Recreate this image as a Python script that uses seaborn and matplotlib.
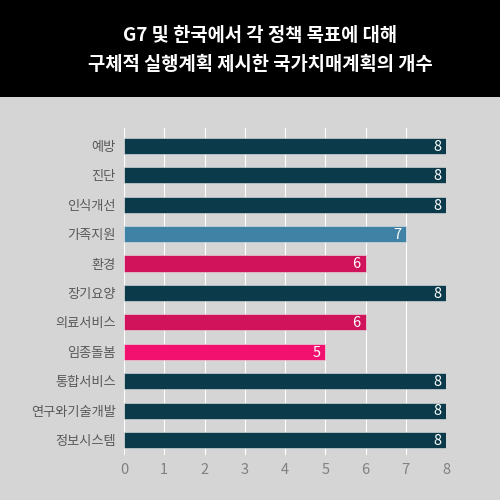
import pandas as pd
import seaborn as sns
import matplotlib.pyplot as plt
from matplotlib.patches import Rectangle

categories = ["예방", "진단", "인식개선", "가족지원", "환경", "장기요양",
              "의료서비스", "임종돌봄", "통합서비스", "연구와기술개발", "정보시스템"]
counts = [8, 8, 8, 7, 6, 8, 6, 5, 8, 8, 8]
bar_colors = ["#0b3a4b", "#0b3a4b", "#0b3a4b", "#3f82a6", "#d0135a", "#0b3a4b",
              "#d0135a", "#f2116f", "#0b3a4b", "#0b3a4b", "#0b3a4b"]
title = "G7 및 한국에서 각 정책 목표에 대해\n구체적 실행계획 제시한 국가치매계획의 개수"

df = pd.DataFrame({"cat": categories, "n": counts})

sns.set_theme(style="whitegrid")
plt.rcParams['font.family'] = ['Noto Sans CJK KR', 'DejaVu Sans']

bg = "#d5d5d5"
fig = plt.figure(figsize=(5, 5), dpi=100, facecolor=bg)
fig.patches.append(Rectangle((0, 0.806), 1, 0.194, transform=fig.transFigure,
                             facecolor="black", edgecolor="none", zorder=0))
fig.text(0.521, 0.9, title, ha="center", va="center", color="white",
         fontsize=13.5, fontweight="bold", linespacing=1.7)

ax = fig.add_axes([0.248, 0.09, 0.644, 0.654])
ax.set_facecolor(bg)
sns.barplot(data=df, x="n", y="cat", hue="cat", palette=dict(zip(categories, bar_colors)),
            legend=False, width=0.55, saturation=1, ax=ax, zorder=3,
            edgecolor="#e6e6e6", linewidth=0.4)

for p, v in zip(ax.patches, counts):
    ax.text(v - 0.12, p.get_y() + p.get_height() / 2 + 0.03, str(v), ha="right", va="center",
            color="white", fontsize=10.5, fontweight="light", zorder=4)

ax.set_xlim(0, 8)
ax.set_ylim(10.51, -0.61)
ax.set_xticks(range(9))
ax.grid(axis="x", color="white", linewidth=0.8)
ax.grid(axis="y", visible=False)
ax.set_axisbelow(True)
for s in ax.spines.values():
    s.set_visible(False)
ax.set_xlabel("")
ax.set_ylabel("")
ax.tick_params(axis="y", labelsize=9.5, labelcolor="#595959", length=0, pad=6)
ax.tick_params(axis="x", labelsize=10.5, labelcolor="#808080", length=0, pad=6)
for lbl in ax.get_xticklabels() + ax.get_yticklabels():
    lbl.set_fontweight("light")

fig.savefig("out.png", dpi=100, facecolor=bg)
